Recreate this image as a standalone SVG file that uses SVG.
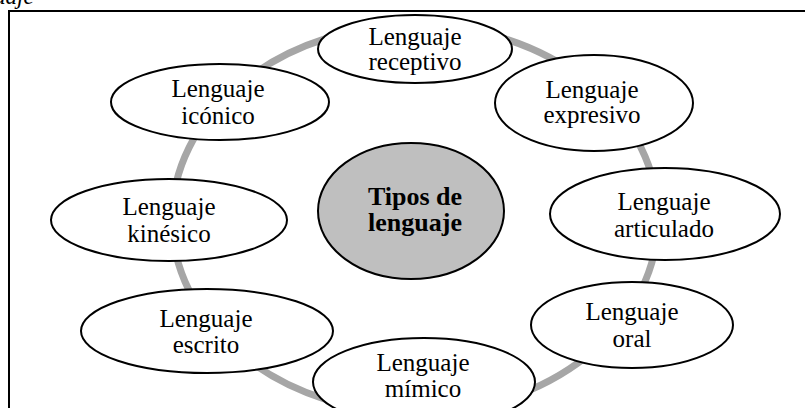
<svg xmlns="http://www.w3.org/2000/svg" width="805" height="408" viewBox="0 0 805 408">
<style>
.n{fill:#fff;stroke:#000;stroke-width:2}
.c{fill:#bfbfbf;stroke:#000;stroke-width:2}
.t{font-family:"Liberation Serif","Times New Roman",serif;font-size:25px;fill:#000;text-anchor:middle}
.b{font-weight:bold;font-size:26px}
</style>
<rect width="805" height="408" fill="#fff"/>
<text x="-6" y="4" font-family="Liberation Serif, serif" font-style="italic" font-size="23" fill="#000">uaje</text>
<rect x="9" y="11" width="810" height="420" fill="none" stroke="#000" stroke-width="2"/>
<g id="connectors">
<ellipse cx="415" cy="219" rx="243" ry="194" fill="none" stroke="#a6a6a6" stroke-width="7"/>
</g>
<g id="center"><ellipse class="c" cx="411" cy="211" rx="93" ry="68"/><text class="t b" x="415" y="205">Tipos de</text><text class="t b" x="415" y="231">lenguaje</text></g>
<g id="receptivo"><ellipse class="n" cx="415" cy="49" rx="97" ry="34"/><text class="t" x="415" y="45">Lenguaje</text><text class="t" x="415" y="70">receptivo</text></g>
<g id="expresivo"><ellipse class="n" cx="594" cy="103" rx="99" ry="48"/><text class="t" x="592" y="98">Lenguaje</text><text class="t" x="592" y="123">expresivo</text></g>
<g id="articulado"><ellipse class="n" cx="665" cy="214" rx="115" ry="46"/><text class="t" x="664" y="210">Lenguaje</text><text class="t" x="664" y="237">articulado</text></g>
<g id="oral"><ellipse class="n" cx="632" cy="325" rx="101" ry="43"/><text class="t" x="632" y="320">Lenguaje</text><text class="t" x="632" y="347">oral</text></g>
<g id="mimico"><ellipse class="n" cx="424" cy="382" rx="111" ry="44"/><text class="t" x="423" y="371">Lenguaje</text><text class="t" x="423" y="397">mímico</text></g>
<g id="escrito"><ellipse class="n" cx="207" cy="331" rx="126" ry="42"/><text class="t" x="206" y="327">Lenguaje</text><text class="t" x="206" y="353">escrito</text></g>
<g id="kinesico"><ellipse class="n" cx="169" cy="220" rx="118" ry="41"/><text class="t" x="169" y="215">Lenguaje</text><text class="t" x="169" y="242">kinésico</text></g>
<g id="iconico"><ellipse class="n" cx="220" cy="102" rx="109" ry="38"/><text class="t" x="218" y="97">Lenguaje</text><text class="t" x="218" y="124">icónico</text></g>
</svg>
